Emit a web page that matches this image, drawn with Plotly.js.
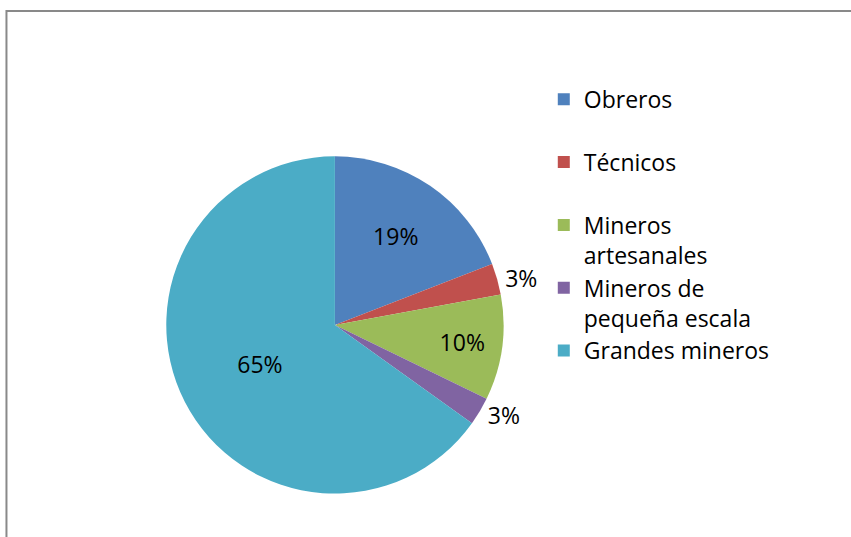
<!DOCTYPE html>
<html>
<head>
<meta charset="utf-8">
<script src="https://cdn.plot.ly/plotly-3.0.1.min.js"></script>
<style>html,body{margin:0;padding:0;background:#fff;}#chart{width:851px;height:537px;}</style>
</head>
<body>
<div id="chart"></div>
<script>
// Data
var categories = ["Obreros", "Técnicos", "Mineros artesanales", "Mineros de pequeña escala", "Grandes mineros"];
var legendLabels = ["Obreros<br>\u00a0", "Técnicos<br>\u00a0", "Mineros<br>artesanales", "Mineros de<br>pequeña escala", "Grandes mineros"];
var values = [19.1, 3.0, 10.1, 2.7, 65.1];
var colors = ["#4F81BD", "#C0504D", "#9BBB59", "#8064A2", "#4BACC6"];
var textPositions = ["inside", "outside", "inside", "outside", "inside"];

var FONT = "'Open Sans', Lato, sans-serif";

var trace = {
  type: "pie",
  labels: legendLabels,
  values: values,
  sort: false,
  direction: "clockwise",
  rotation: 0,
  marker: {colors: colors, line: {width: 0}},
  texttemplate: "%{percent:.0%}",
  textposition: textPositions,
  insidetextorientation: "horizontal",
  textfont: {family: FONT, size: 23, color: "#000"},
  insidetextfont: {family: FONT, size: 23, color: "#000"},
  outsidetextfont: {family: FONT, size: 23, color: "#000"},
  hoverinfo: "label+percent",
  domain: {x: [0.1954, 0.5917], y: [0.0801, 0.7095]}
};

var layout = {
  width: 851,
  height: 537,
  margin: {l: 0, r: 0, t: 0, b: 0},
  paper_bgcolor: "#fff",
  font: {family: FONT, color: "#000"},
  showlegend: true,
  uniformtext: {mode: "show", minsize: 23},
  legend: {
    x: 0.639, xanchor: "left",
    y: 0.855, yanchor: "top",
    valign: "top",
    font: {family: FONT, size: 23, color: "#000"},
    bgcolor: "rgba(0,0,0,0)",
    tracegroupgap: 0
  },
  shapes: [{
    type: "rect", xref: "paper", yref: "paper",
    x0: 0.0076, x1: 1.2, y0: -0.2, y1: 0.9795,
    line: {color: "#898989", width: 2},
    fillcolor: "rgba(0,0,0,0)"
  }]
};

Plotly.newPlot("chart", [trace], layout, {displayModeBar: false, staticPlot: true});
</script>
</body>
</html>
